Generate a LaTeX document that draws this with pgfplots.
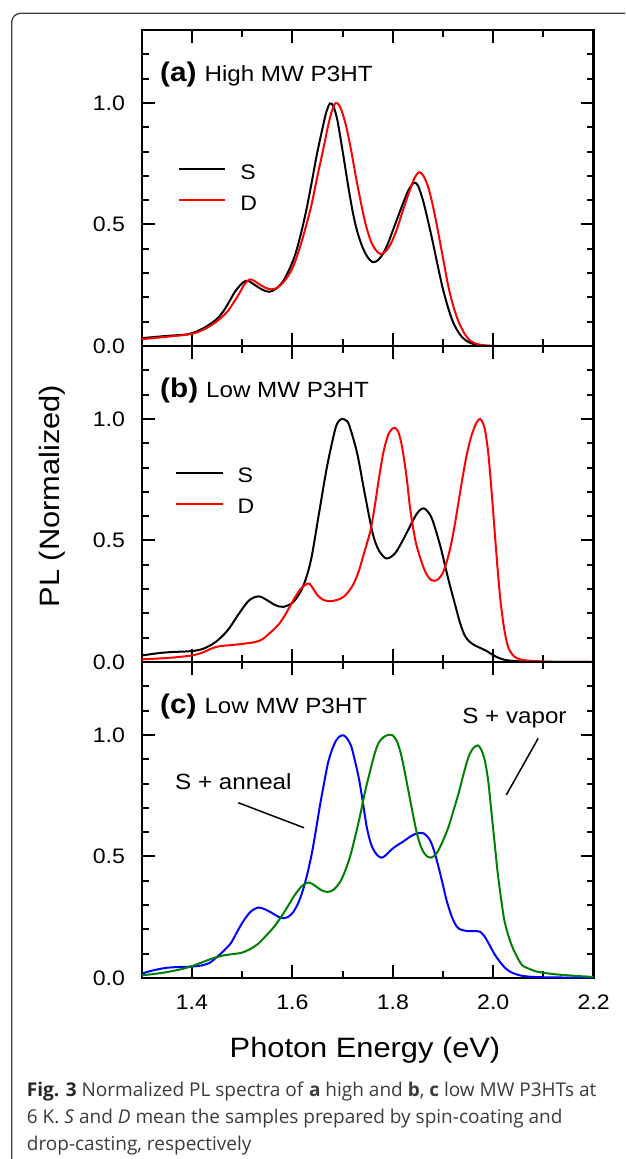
\documentclass[border=0pt]{standalone}
\usepackage{fontspec}
\setmainfont{Liberation Sans}[FakeStretch=1.1]
\newfontfamily\capfont{Open Sans}
\usepackage{pgfplots}
\pgfplotsset{compat=1.18}
\definecolor{pgreen}{RGB}{0,128,0}
\definecolor{pblue}{RGB}{0,0,255}
\definecolor{pred}{RGB}{255,0,0}
\definecolor{capgray}{RGB}{60,60,60}
\pgfplotsset{
  panel/.style={
    scale only axis, width=452pt, height=316pt,
    anchor=south west,
    xmin=1.3, xmax=2.2, ymin=0, ymax=1.3,
    xtick={1.4,1.6,1.8,2.0,2.2}, minor xtick={1.3,1.5,1.7,1.9,2.1},
    ytick={0,0.5,1.0}, minor ytick={0.1,0.2,0.3,0.4,0.6,0.7,0.8,0.9,1.1,1.2},
    tick align=inside, major tick length=13pt, minor tick length=7pt,
    major tick style={line width=2pt, black},
    minor tick style={line width=2pt, black},
    axis line style={line width=2.4pt},
    /pgf/number format/assume math mode=true,
    yticklabel style={inner sep=0pt, xshift=-16.5pt, font=\fontsize{21}{21}\selectfont,
      /pgf/number format/.cd, fixed, fixed zerofill, precision=1},
    xticklabel style={inner sep=0pt, anchor=north, yshift=-17pt, font=\fontsize{21}{21}\selectfont,
      /pgf/number format/.cd, fixed, fixed zerofill, precision=1},
    every axis plot/.append style={line width=2pt, smooth},
    legend image code/.code={\draw[#1] (0pt,0.36em) -- (46.7pt,0.36em);},
    legend cell align=left,
    legend style={draw=none, fill=none, inner sep=0pt, outer sep=0pt,
      font=\fontsize{21}{21}\selectfont, row sep=15pt, column sep=14pt,
      nodes={inner sep=0pt}},
  }
}
\begin{document}
\begin{tikzpicture}
\useasboundingbox (0pt,0pt) rectangle (625pt,-1159pt);
\fill[white] (0pt,0pt) rectangle (625pt,-1159pt);
\begin{scope}
\clip (0pt,0pt) rectangle (625pt,-1159pt);
\draw[line width=1.3pt, black!75, rounded corners=9pt] (11.7pt,-13.3pt) rectangle (700pt,-1250pt);
\end{scope}

% ---------------- panel (a)
\begin{axis}[panel, at={(141.7pt,-346pt)}, xticklabels={},
  legend style={at={(axis cs:1.3717,0.746)}, anchor=north west}]
\addplot[black] coordinates {
(1.300,0.032)(1.330,0.038)(1.360,0.043)(1.391,0.048)(1.410,0.060)(1.431,0.083)(1.450,0.112)
(1.463,0.144)(1.475,0.185)(1.487,0.227)(1.502,0.262)(1.512,0.268)(1.526,0.250)(1.540,0.232)
(1.554,0.223)(1.568,0.236)(1.582,0.268)(1.595,0.320)(1.606,0.378)(1.618,0.470)(1.629,0.571)
(1.640,0.690)(1.649,0.790)(1.661,0.905)(1.668,0.965)(1.675,0.998)(1.682,0.985)(1.690,0.925)
(1.701,0.790)(1.711,0.660)(1.721,0.543)(1.730,0.465)(1.740,0.405)(1.750,0.365)(1.760,0.345)
(1.770,0.352)(1.780,0.378)(1.790,0.420)(1.800,0.475)(1.810,0.530)(1.820,0.585)(1.831,0.640)
(1.842,0.672)(1.850,0.660)(1.860,0.600)(1.870,0.515)(1.879,0.433)(1.889,0.335)(1.899,0.241)
(1.909,0.165)(1.919,0.103)(1.929,0.062)(1.939,0.034)(1.950,0.017)(1.963,0.007)(1.980,0.002)
(2.000,0.000)(2.100,0.000)(2.200,0.000)};
\addlegendentry{S}
\addplot[pred] coordinates {
(1.300,0.028)(1.330,0.034)(1.360,0.040)(1.391,0.047)(1.410,0.056)(1.431,0.076)(1.450,0.102)
(1.470,0.140)(1.485,0.185)(1.494,0.215)(1.505,0.255)(1.515,0.274)(1.524,0.268)(1.534,0.254)
(1.546,0.240)(1.558,0.233)(1.570,0.240)(1.582,0.262)(1.595,0.300)(1.606,0.350)(1.620,0.440)
(1.637,0.571)(1.650,0.700)(1.661,0.805)(1.670,0.895)(1.677,0.955)(1.684,0.995)(1.690,0.998)
(1.697,0.975)(1.707,0.905)(1.717,0.805)(1.727,0.690)(1.737,0.585)(1.746,0.500)(1.756,0.433)
(1.766,0.395)(1.776,0.378)(1.786,0.390)(1.796,0.420)(1.808,0.480)(1.820,0.557)(1.832,0.630)
(1.843,0.690)(1.852,0.715)(1.861,0.700)(1.871,0.650)(1.881,0.565)(1.891,0.461)(1.901,0.350)
(1.911,0.241)(1.921,0.160)(1.931,0.100)(1.943,0.050)(1.955,0.020)(1.970,0.007)(1.987,0.002)
(2.010,0.000)(2.100,0.000)(2.200,0.000)};
\addlegendentry{D}
\node[anchor=base west, inner sep=0pt] at (axis cs:1.3365,1.09)
  {{\fontsize{27}{27}\selectfont\bfseries (a)}\hspace{8pt}{\fontsize{22}{22}\selectfont High MW P3HT}};
\end{axis}

% ---------------- panel (b)
\begin{axis}[panel, at={(141.7pt,-662pt)}, xticklabels={},
  ylabel={PL (Normalized)},
  ylabel style={font=\fontsize{28}{28}\selectfont, at={(axis description cs:-0.1973,0.525)}, anchor=center},
  legend style={at={(axis cs:1.3663,0.798)}, anchor=north west}]
\addplot[black] coordinates {
(1.300,0.027)(1.336,0.037)(1.360,0.041)(1.400,0.045)(1.423,0.055)(1.447,0.082)(1.471,0.130)
(1.494,0.200)(1.514,0.254)(1.533,0.270)(1.550,0.254)(1.566,0.234)(1.582,0.227)(1.602,0.247)
(1.621,0.309)(1.637,0.419)(1.653,0.611)(1.669,0.804)(1.685,0.955)(1.692,0.990)(1.699,1.000)
(1.706,0.995)(1.713,0.975)(1.729,0.859)(1.744,0.694)(1.760,0.529)(1.772,0.460)(1.787,0.426)
(1.804,0.446)(1.820,0.501)(1.844,0.597)(1.854,0.625)(1.862,0.632)(1.870,0.618)(1.879,0.584)
(1.895,0.474)(1.911,0.337)(1.927,0.213)(1.934,0.160)(1.943,0.110)(1.952,0.085)(1.962,0.070)
(1.974,0.058)(1.987,0.045)(2.000,0.028)(2.012,0.016)(2.025,0.008)(2.050,0.003)(2.100,0.001)
(2.200,0.000)};
\addlegendentry{S}
\addplot[pred] coordinates {
(1.300,0.011)(1.330,0.014)(1.360,0.018)(1.400,0.027)(1.420,0.038)(1.431,0.048)(1.445,0.060)
(1.455,0.065)(1.475,0.069)(1.494,0.073)(1.510,0.077)(1.526,0.082)(1.540,0.093)(1.550,0.110)
(1.562,0.132)(1.574,0.158)(1.586,0.195)(1.598,0.240)(1.608,0.275)(1.617,0.302)(1.626,0.318)
(1.634,0.322)(1.642,0.300)(1.650,0.275)(1.661,0.256)(1.675,0.250)(1.690,0.256)(1.702,0.268)
(1.712,0.290)(1.722,0.322)(1.732,0.372)(1.740,0.428)(1.748,0.485)(1.756,0.545)(1.764,0.640)
(1.772,0.750)(1.781,0.860)(1.790,0.930)(1.798,0.958)(1.805,0.962)(1.811,0.946)(1.817,0.900)
(1.822,0.840)(1.828,0.750)(1.834,0.640)(1.840,0.556)(1.846,0.490)(1.852,0.446)(1.860,0.395)
(1.868,0.358)(1.876,0.338)(1.882,0.334)(1.890,0.340)(1.899,0.364)(1.907,0.410)(1.915,0.474)
(1.923,0.560)(1.931,0.660)(1.939,0.760)(1.947,0.850)(1.955,0.920)(1.963,0.968)(1.969,0.992)
(1.974,1.000)(1.979,0.985)(1.984,0.950)(1.990,0.860)(1.996,0.720)(2.002,0.560)(2.008,0.400)
(2.014,0.260)(2.020,0.160)(2.026,0.090)(2.032,0.050)(2.042,0.022)(2.055,0.010)(2.080,0.004)
(2.120,0.001)(2.200,0.000)};
\addlegendentry{D}
\node[anchor=base west, inner sep=0pt] at (axis cs:1.3365,1.09)
  {{\fontsize{27}{27}\selectfont\bfseries (b)}\hspace{8pt}{\fontsize{22}{22}\selectfont Low MW P3HT}};
\end{axis}

% ---------------- panel (c)
\begin{axis}[panel, at={(141.7pt,-978pt)}, xticklabel pos=lower,
  xlabel={Photon Energy (eV)},
  xlabel style={font=\fontsize{28}{28}\selectfont, at={(axis description cs:0.494,-0.251)}, anchor=base}]
\addplot[pblue] coordinates {
(1.300,0.018)(1.320,0.030)(1.346,0.041)(1.370,0.045)(1.400,0.047)(1.420,0.052)(1.435,0.062)
(1.446,0.080)(1.460,0.105)(1.471,0.128)(1.479,0.148)(1.494,0.205)(1.506,0.245)(1.518,0.275)
(1.532,0.290)(1.545,0.283)(1.559,0.268)(1.572,0.252)(1.582,0.246)(1.592,0.252)(1.602,0.272)
(1.612,0.310)(1.621,0.361)(1.630,0.430)(1.639,0.515)(1.647,0.610)(1.655,0.710)(1.663,0.800)
(1.671,0.885)(1.680,0.945)(1.688,0.980)(1.695,0.995)(1.702,0.998)(1.709,0.985)(1.717,0.955)
(1.725,0.890)(1.733,0.815)(1.741,0.715)(1.748,0.622)(1.756,0.555)(1.764,0.519)(1.771,0.502)
(1.778,0.495)(1.786,0.505)(1.796,0.526)(1.808,0.545)(1.820,0.560)(1.832,0.578)(1.844,0.592)
(1.858,0.597)(1.866,0.588)(1.874,0.567)(1.882,0.525)(1.891,0.457)(1.899,0.390)(1.907,0.320)
(1.917,0.255)(1.927,0.212)(1.937,0.198)(1.950,0.193)(1.962,0.193)(1.974,0.190)(1.983,0.170)
(1.992,0.138)(2.002,0.100)(2.012,0.070)(2.022,0.045)(2.032,0.028)(2.042,0.018)(2.055,0.010)
(2.070,0.006)(2.100,0.003)(2.200,0.001)};
\addplot[pgreen] coordinates {
(1.300,0.011)(1.330,0.018)(1.352,0.025)(1.380,0.037)(1.400,0.049)(1.420,0.064)(1.440,0.080)
(1.463,0.093)(1.480,0.098)(1.499,0.104)(1.515,0.118)(1.532,0.141)(1.548,0.175)(1.566,0.217)
(1.585,0.275)(1.605,0.342)(1.620,0.380)(1.633,0.393)(1.645,0.380)(1.657,0.362)(1.670,0.354)
(1.682,0.363)(1.695,0.395)(1.705,0.440)(1.715,0.500)(1.725,0.581)(1.735,0.670)(1.744,0.760)
(1.754,0.845)(1.764,0.924)(1.772,0.968)(1.781,0.990)(1.791,1.000)(1.800,0.998)(1.808,0.975)
(1.816,0.924)(1.824,0.845)(1.832,0.760)(1.840,0.675)(1.848,0.595)(1.856,0.540)(1.863,0.512)
(1.870,0.498)(1.876,0.495)(1.884,0.505)(1.891,0.526)(1.901,0.570)(1.911,0.622)(1.921,0.690)
(1.931,0.760)(1.941,0.840)(1.951,0.911)(1.960,0.945)(1.969,0.957)(1.976,0.940)(1.983,0.897)
(1.990,0.810)(1.996,0.691)(2.003,0.550)(2.009,0.430)(2.016,0.320)(2.022,0.238)(2.030,0.175)
(2.038,0.128)(2.048,0.085)(2.058,0.052)(2.075,0.035)(2.090,0.025)(2.130,0.014)(2.200,0.004)};
\node[anchor=base west, inner sep=0pt] at (axis cs:1.3365,1.09)
  {{\fontsize{27}{27}\selectfont\bfseries (c)}\hspace{8pt}{\fontsize{22}{22}\selectfont Low MW P3HT}};
\node[anchor=base west, inner sep=0pt, font=\fontsize{22}{22}\selectfont] at (axis cs:1.3663,0.7775) {S + anneal};
\draw[line width=1.5pt] (axis cs:1.4924,0.721) -- (axis cs:1.6233,0.618);
\node[anchor=base west, inner sep=0pt, font=\fontsize{22}{22}\selectfont] at (axis cs:1.938,1.047) {S + vapor};
\draw[line width=1.5pt] (axis cs:2.0894,0.986) -- (axis cs:2.026,0.753);
\end{axis}

% ---------------- caption
\begin{scope}[every node/.style={anchor=base west, inner sep=0pt, text=capgray,
    font=\capfont\fontsize{19}{27}\selectfont}]
\node at (26.7pt,-1096pt) {\textbf{\color{black!85}Fig. 3} Normalized PL spectra of \textbf{a} high and \textbf{b}, \textbf{c} low MW P3HTs at};
\node at (26.7pt,-1123.3pt) {6 K. \textit{S} and \textit{D} mean the samples prepared by spin-coating and};
\node at (26.7pt,-1150pt) {drop-casting, respectively};
\end{scope}
\end{tikzpicture}
\end{document}
